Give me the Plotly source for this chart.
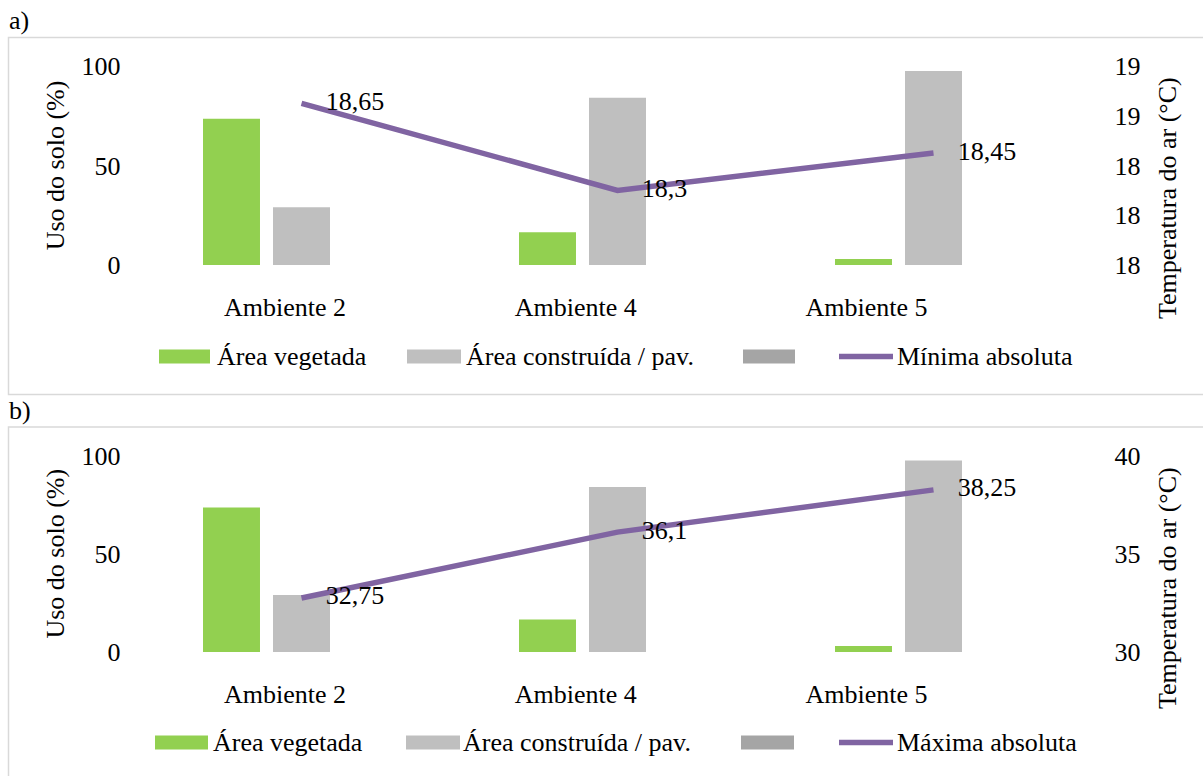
import plotly.graph_objects as go

# ---- data -------------------------------------------------------------
ambientes = ["Ambiente 2", "Ambiente 4", "Ambiente 5"]
area_vegetada = [73.5, 16.5, 3.0]
area_construida = [29.0, 84.0, 97.5]
area_outros = [None, None, None]          # empty third series (legend only)
temp_minima = [18.65, 18.3, 18.45]
temp_maxima = [32.75, 36.1, 38.25]

nomes_barras = ["Área vegetada", "Área construída / pav.", ""]

# ---- style ------------------------------------------------------------
VERDE = "#92D050"
CINZA = "#BFBFBF"
CINZA_ESC = "#A5A5A5"
ROXO = "#8064A2"
BORDA = "#D9D9D9"
FONTE = "Liberation Serif"
FS = 26

W, H = 1203, 776


def px(x):
    return x / W


def py(y):
    return 1 - y / H


def rotulo(v):
    return f"{v:g}".replace(".", ",")


painel = [
    dict(tag="a)", tag_y=20, top=66, bottom=265, frame=(37.5, 394.5),
         temp=temp_minima, nome_linha="Mínima absoluta",
         trange=[18, 18.8], tick0=18, dtick=0.2, legend_y=356.5, titulo2_y=198,
         legend_x=[(159, 210, 215), (407, 461, 464), (743, 795, None)],
         x="x", xl="x3", y="y", y2="y2"),
    dict(tag="b)", tag_y=410, top=455.5, bottom=652, frame=(427, 800),
         temp=temp_maxima, nome_linha="Máxima absoluta",
         trange=[30, 40], tick0=30, dtick=5, legend_y=742.5, titulo2_y=588,
         legend_x=[(155, 208, 211), (406, 460, 461), (741, 794, None)],
         x="x2", xl="x4", y="y3", y2="y4"),
]

fig = go.Figure()
shapes, annotations = [], []
x_dom = [px(143.5), px(1091.5)]
posicoes = list(range(len(ambientes)))
fonte_txt = dict(family=FONTE, size=FS, color="black")

for p in painel:
    for vals, cor, nome in zip([area_vegetada, area_construida, area_outros],
                               [VERDE, CINZA, CINZA_ESC], nomes_barras):
        fig.add_trace(go.Bar(x=ambientes, y=vals, name=nome,
                             marker=dict(color=cor, line=dict(width=0)),
                             xaxis=p["x"], yaxis=p["y"], showlegend=False))
    fig.add_trace(go.Scatter(
        x=ambientes, y=p["temp"], name=p["nome_linha"],
        mode="lines+markers+text",
        line=dict(color=ROXO, width=5.5),
        marker=dict(size=37, color="rgba(0,0,0,0)"),
        text=[rotulo(v) for v in p["temp"]],
        textposition="middle right",
        textfont=fonte_txt,
        cliponaxis=False, showlegend=False,
        xaxis=p["x"], yaxis=p["y2"]))
    # carrier for the category label axis (draws nothing)
    fig.add_trace(go.Scatter(x=posicoes, y=[None] * len(posicoes), mode="markers",
                             showlegend=False, hoverinfo="skip",
                             xaxis=p["xl"], yaxis=p["y"]))

    ydom = [py(p["bottom"]), py(p["top"])]
    xk = "xaxis" + p["x"][1:]
    xlk = "xaxis" + p["xl"][1:]
    yk = "yaxis" + p["y"][1:]
    y2k = "yaxis" + p["y2"][1:]
    common = dict(showgrid=False, zeroline=False, showline=False, ticks="",
                  automargin=False, tickfont=fonte_txt)
    fig.layout[xk] = dict(domain=x_dom, anchor=p["y"], type="category",
                          range=[-0.5, 2.5], showticklabels=False, **common)
    fig.layout[xlk] = dict(overlaying=p["x"], anchor=p["y"], side="bottom",
                           type="linear", range=[-0.4867, 2.7738],
                           tickvals=posicoes, ticktext=ambientes,
                           ticklabelstandoff=24, **common)
    fig.layout[yk] = dict(domain=ydom, anchor=p["x"], range=[0, 100],
                          tickvals=[0, 50, 100], ticklabelstandoff=22,
                          title=dict(text="Uso do solo (%)", standoff=9, font=fonte_txt),
                          **common)
    fig.layout[y2k] = dict(overlaying=p["y"], anchor=p["x"], side="right",
                           range=p["trange"], tick0=p["tick0"], dtick=p["dtick"],
                           tickformat=".0f", ticklabelstandoff=22, **common)
    # secondary axis title, sitting slightly below the plot centre
    annotations.append(dict(text="Temperatura do ar (°C)", xref="paper", yref="paper",
                            x=px(1167), y=py(p["titulo2_y"]), textangle=-90,
                            xanchor="center", yanchor="middle", showarrow=False,
                            font=fonte_txt))

    # chart frame and panel tag
    shapes.append(dict(type="rect", xref="paper", yref="paper",
                       x0=px(8.5), x1=px(1215), y0=py(p["frame"][1]), y1=py(p["frame"][0]),
                       line=dict(color=BORDA, width=1.5), fillcolor="rgba(0,0,0,0)"))
    annotations.append(dict(text=p["tag"], xref="paper", yref="paper",
                            x=px(7), y=py(p["tag_y"]), xanchor="left", yanchor="middle",
                            showarrow=False, font=fonte_txt))

    # legend row
    ly = p["legend_y"]
    for (x0, x1, tx), cor, nome in zip(p["legend_x"], [VERDE, CINZA, CINZA_ESC], nomes_barras):
        shapes.append(dict(type="rect", xref="paper", yref="paper",
                           x0=px(x0), x1=px(x1), y0=py(ly + 7), y1=py(ly - 7),
                           line=dict(width=0), fillcolor=cor))
        if nome:
            annotations.append(dict(text=nome, xref="paper", yref="paper",
                                    x=px(tx), y=py(ly), xanchor="left", yanchor="middle",
                                    showarrow=False, font=fonte_txt))
    shapes.append(dict(type="line", xref="paper", yref="paper",
                       x0=px(839), x1=px(893), y0=py(ly), y1=py(ly),
                       line=dict(color=ROXO, width=5.5)))
    annotations.append(dict(text=p["nome_linha"], xref="paper", yref="paper",
                            x=px(895), y=py(ly), xanchor="left", yanchor="middle",
                            showarrow=False, font=fonte_txt))

fig.update_layout(
    width=W, height=H,
    margin=dict(l=0, r=0, t=0, b=0, autoexpand=False),
    paper_bgcolor="white", plot_bgcolor="white",
    barmode="group", bargap=0.3354, bargroupgap=0.186,
    font=fonte_txt,
    shapes=shapes, annotations=annotations,
    showlegend=False,
)

fig.write_html("out.html")
